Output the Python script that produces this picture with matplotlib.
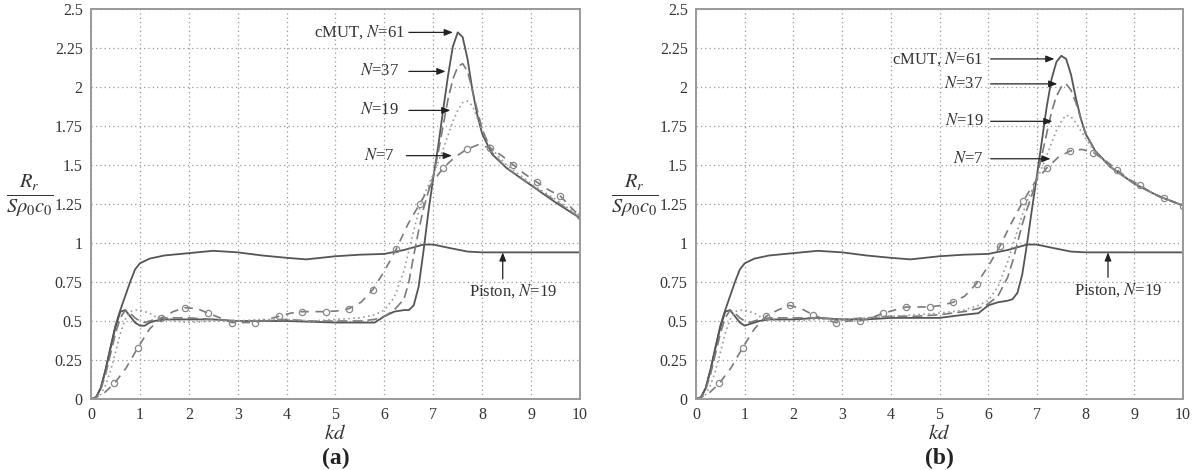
import numpy as np
import matplotlib
matplotlib.use("Agg")
import matplotlib.pyplot as plt

plt.rcParams['font.family'] = ['Liberation Serif', 'DejaVu Serif']
plt.rcParams['mathtext.fontset'] = 'stix'

# ---------------- data ----------------
yticks = [0, 0.25, 0.5, 0.75, 1, 1.25, 1.5, 1.75, 2, 2.25, 2.5]
ytick_labels = ['0', '0.25', '0.5', '0.75', '1', '1.25', '1.5', '1.75', '2', '2.25', '2.5']
xticks = [0, 1, 2, 3, 4, 5, 6, 7, 8, 9, 10]
xtick_labels = ['0', '1', '2', '3', '4', '5', '6', '7', '8', '9', '10']

# piston, N=19 (same in both panels)
kd_piston = [0, 0.1, 0.2, 0.3, 0.4, 0.5, 0.6, 0.7, 0.8, 0.9, 1.0, 1.2, 1.5, 2.0, 2.5, 3.0,
             3.5, 4.0, 4.4, 5.0, 5.5, 6.0, 6.4, 6.8, 7.0, 7.3, 7.7, 8.0, 8.5, 9.0, 9.5, 10.0]
piston = [0, 0.01, 0.07, 0.19, 0.33, 0.47, 0.57, 0.66, 0.75, 0.83, 0.87, 0.90, 0.92, 0.935,
          0.95, 0.94, 0.92, 0.905, 0.895, 0.915, 0.925, 0.93, 0.955, 0.99, 0.99, 0.97, 0.945,
          0.94, 0.94, 0.94, 0.94, 0.94]

# cMUT arrays, common kd samples
kd = [0, 0.1, 0.2, 0.3, 0.4, 0.5, 0.6, 0.7, 0.8, 0.9, 1.0, 1.1, 1.2, 1.3, 1.5, 1.75, 2.0,
      2.5, 3.0, 3.5, 4.0, 4.5, 5.0, 5.5, 5.8, 6.0, 6.2, 6.4, 6.5, 6.6, 6.7, 6.8, 6.9, 7.0,
      7.1, 7.2, 7.3, 7.4, 7.5, 7.6, 7.7, 7.8, 7.9, 8.0, 8.2, 8.5, 9.0, 9.5, 10.0]

a_n61 = [0, 0.01, 0.07, 0.19, 0.33, 0.46, 0.56, 0.57, 0.53, 0.49, 0.47, 0.47, 0.49, 0.50,
         0.51, 0.51, 0.51, 0.51, 0.50, 0.50, 0.50, 0.495, 0.49, 0.49, 0.49, 0.53, 0.56, 0.57,
         0.57, 0.60, 0.72, 0.95, 1.20, 1.42, 1.62, 1.85, 2.07, 2.26, 2.35, 2.32, 2.18, 1.98,
         1.82, 1.70, 1.57, 1.48, 1.37, 1.26, 1.16]
a_n37 = [0, 0.01, 0.06, 0.16, 0.29, 0.42, 0.52, 0.57, 0.55, 0.52, 0.50, 0.49, 0.50, 0.51,
         0.52, 0.52, 0.52, 0.51, 0.50, 0.50, 0.51, 0.50, 0.50, 0.50, 0.51, 0.53, 0.57, 0.64,
         0.75, 0.92, 1.08, 1.22, 1.33, 1.43, 1.58, 1.75, 1.92, 2.05, 2.13, 2.15, 2.10, 1.98,
         1.85, 1.73, 1.58, 1.48, 1.37, 1.27, 1.16]
a_n19 = [0, 0.005, 0.03, 0.09, 0.18, 0.30, 0.42, 0.51, 0.56, 0.57, 0.57, 0.56, 0.55, 0.53,
         0.51, 0.50, 0.49, 0.50, 0.50, 0.51, 0.51, 0.50, 0.51, 0.52, 0.54, 0.57, 0.65, 0.82,
         0.95, 1.08, 1.20, 1.30, 1.37, 1.44, 1.52, 1.60, 1.69, 1.78, 1.85, 1.90, 1.91, 1.88,
         1.80, 1.72, 1.60, 1.50, 1.38, 1.28, 1.17]

b_n61 = [0, 0.01, 0.07, 0.19, 0.33, 0.46, 0.56, 0.57, 0.53, 0.49, 0.47, 0.48, 0.49, 0.50,
         0.51, 0.51, 0.51, 0.52, 0.51, 0.51, 0.52, 0.52, 0.52, 0.54, 0.55, 0.60, 0.62, 0.63,
         0.64, 0.68, 0.80, 1.00, 1.22, 1.43, 1.65, 1.87, 2.05, 2.16, 2.20, 2.18, 2.08, 1.93,
         1.80, 1.70, 1.59, 1.49, 1.38, 1.30, 1.24]
b_n37 = [0, 0.01, 0.06, 0.16, 0.29, 0.42, 0.52, 0.57, 0.55, 0.52, 0.50, 0.49, 0.50, 0.51,
         0.52, 0.52, 0.52, 0.52, 0.51, 0.52, 0.53, 0.53, 0.54, 0.56, 0.58, 0.61, 0.66, 0.78,
         0.88, 1.00, 1.12, 1.22, 1.31, 1.42, 1.56, 1.70, 1.84, 1.94, 2.00, 2.02, 1.98, 1.90,
         1.80, 1.70, 1.59, 1.49, 1.38, 1.30, 1.24]
b_n19 = [0, 0.005, 0.03, 0.09, 0.18, 0.30, 0.42, 0.51, 0.56, 0.57, 0.57, 0.56, 0.55, 0.53,
         0.51, 0.50, 0.50, 0.51, 0.51, 0.52, 0.53, 0.54, 0.55, 0.57, 0.60, 0.63, 0.72, 0.88,
         0.98, 1.08, 1.18, 1.27, 1.34, 1.41, 1.48, 1.56, 1.64, 1.72, 1.78, 1.82, 1.81, 1.77,
         1.72, 1.67, 1.58, 1.49, 1.38, 1.30, 1.24]

# N=7 samples (every second sample carries a circle marker)
kd7 = [0.00, 0.24, 0.48, 0.72, 0.96, 1.20, 1.44, 1.68, 1.92, 2.16, 2.40, 2.64, 2.88, 3.12,
       3.36, 3.60, 3.84, 4.08, 4.32, 4.56, 4.80, 5.04, 5.28, 5.52, 5.76, 6.00, 6.24, 6.48,
       6.72, 6.96, 7.20, 7.44, 7.68, 7.92, 8.16, 8.40, 8.64, 8.88, 9.12, 9.36, 9.60, 9.84, 10.0]
a_n7 = [0, 0.03, 0.10, 0.20, 0.33, 0.45, 0.52, 0.56, 0.585, 0.58, 0.55, 0.52, 0.49, 0.49,
        0.49, 0.51, 0.53, 0.55, 0.56, 0.56, 0.56, 0.565, 0.58, 0.62, 0.70, 0.82, 0.96, 1.12,
        1.25, 1.38, 1.48, 1.55, 1.60, 1.63, 1.61, 1.56, 1.50, 1.44, 1.39, 1.34, 1.30, 1.22, 1.17]
b_n7 = [0, 0.03, 0.10, 0.20, 0.33, 0.45, 0.53, 0.57, 0.60, 0.58, 0.54, 0.51, 0.49, 0.50,
        0.50, 0.52, 0.55, 0.57, 0.59, 0.59, 0.59, 0.60, 0.62, 0.66, 0.74, 0.85, 0.98, 1.13,
        1.27, 1.39, 1.48, 1.55, 1.59, 1.60, 1.58, 1.53, 1.47, 1.41, 1.37, 1.32, 1.29, 1.26, 1.24]

labels = ['cMUT, $N$=61', '$N$=37', '$N$=19', '$N$=7']
piston_label = 'Piston, $N$=19'

# annotation anchors: (text right end x, arrow tail x, arrow head x, y)
a_ann = [(6.42, 6.5, 7.4, 2.35), (6.3, 6.5, 7.25, 2.10), (6.3, 6.5, 7.35, 1.85), (6.2, 6.45, 7.38, 1.56)]
b_ann = [(5.9, 6.05, 7.36, 2.18), (5.9, 6.05, 7.42, 2.02), (5.9, 6.05, 7.32, 1.78), (5.9, 6.05, 7.28, 1.54)]
a_pist = (8.63, 0.69, 8.42, 0.77, 0.94)
b_pist = (8.67, 0.70, 8.46, 0.78, 0.94)

panels = [
    ('(a)', a_n61, a_n37, a_n19, a_n7, a_ann, a_pist),
    ('(b)', b_n61, b_n37, b_n19, b_n7, b_ann, b_pist),
]

fig = plt.figure(figsize=(11.98, 4.70), dpi=100)
axes_rects = [[91 / 1198, 71 / 470, 489 / 1198, 390 / 470],
              [696 / 1198, 71 / 470, 487 / 1198, 390 / 470]]

for rect, (tag, n61, n37, n19, n7, ann, pist) in zip(axes_rects, panels):
    ax = fig.add_axes(rect)
    ax.plot(kd_piston, piston, color='#555555', lw=1.3, ls='-')
    ax.plot(kd, n61, color='#555555', lw=1.3, ls='-')
    ax.plot(kd, n37, color='#7a7a7a', lw=1.2, ls=(0, (6, 3)))
    ax.plot(kd, n19, color='#9a9a9a', lw=1.2, ls=(0, (1, 2)))
    ax.plot(kd7, n7, color='#7a7a7a', lw=1.2, ls=(0, (5, 4)), marker='o', ms=4.5,
            mfc='none', mec='#888888', mew=0.9, markevery=slice(2, None, 2))

    ax.set_xlim(0, 10)
    ax.set_ylim(0, 2.5)
    ax.set_xticks(xticks)
    ax.set_xticklabels(xtick_labels)
    ax.set_yticks(yticks)
    ax.set_yticklabels(ytick_labels)
    ax.tick_params(length=0, labelsize=11.5, colors='#333333')
    ax.tick_params(axis='x', pad=6)
    ax.tick_params(axis='y', pad=6)
    ax.grid(True, ls=(0, (1, 2.5)), color='#999999', lw=0.9)
    for s in ax.spines.values():
        s.set_color('#999999')
        s.set_linewidth(1.4)

    ax.set_ylabel(r'$\frac{R_r}{S\rho_0 c_0}$', rotation=0, fontsize=21, color='#333333',
                  va='center', ha='center')
    ax.yaxis.set_label_coords(-0.125, 0.52)
    ax.set_xlabel('$kd$', fontsize=15, color='#333333', va='center')
    ax.xaxis.set_label_coords(0.5, -0.092)
    ax.text(0.5, -0.152, tag, transform=ax.transAxes, ha='center', va='center',
            fontsize=17, fontweight='bold', color='#222222')

    for lab, (tx, x0, x1, y) in zip(labels, ann):
        ax.text(tx, y, lab, ha='right', va='center', fontsize=12, color='#333333')
        ax.annotate('', xy=(x1, y), xytext=(x0, y),
                    arrowprops=dict(arrowstyle='-|>,head_length=0.5,head_width=0.2',
                                    color='#222222', lw=0.9, shrinkA=0, shrinkB=0))
    ptx, pty, pax, pay0, pay1 = pist
    ax.text(ptx, pty, piston_label, ha='center', va='center', fontsize=12, color='#333333')
    ax.annotate('', xy=(pax, pay1), xytext=(pax, pay0),
                arrowprops=dict(arrowstyle='-|>,head_length=0.5,head_width=0.2',
                                color='#222222', lw=0.9, shrinkA=0, shrinkB=0))

fig.savefig('out.png', dpi=100)
